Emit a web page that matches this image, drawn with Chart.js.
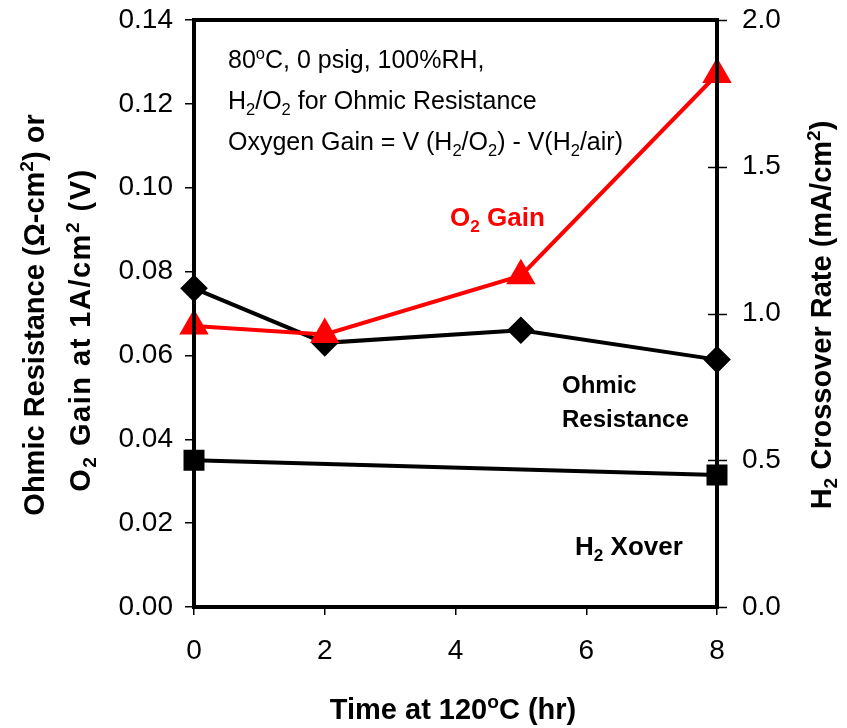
<!DOCTYPE html>
<html>
<head>
<meta charset="utf-8">
<script src="https://cdn.jsdelivr.net/npm/chart.js@4.4.1/dist/chart.umd.min.js"></script>
<style>
  html, body { margin: 0; padding: 0; background: #fff; }
  #wrap { width: 847px; height: 728px; position: relative; }
</style>
</head>
<body>
<div id="wrap"><canvas id="chart" width="847" height="728"></canvas></div>
<script>
// данные
const timeHr = [0, 2, 5, 8];
const o2Gain = [0.067, 0.065, 0.079, 0.127];     // V
const ohmicRes = [0.076, 0.063, 0.066, 0.059];   // ohm-cm2
const xoverTime = [0, 8];
const h2Xover = [0.50, 0.45];                    // mA/cm2

const xTicks = [0, 2, 4, 6, 8];
const leftTicks = [0, 0.02, 0.04, 0.06, 0.08, 0.10, 0.12, 0.14];
const rightTicks = [0, 0.5, 1.0, 1.5, 2.0];

const FONT = '"Liberation Sans", Arial, sans-serif';

// текст с индексами: части вида [строка, 'sub' | 'sup' | undefined]
function richWidth(ctx, parts, size, bold) {
    let w = 0;
    parts.forEach(([t, k]) => {
        const s = k ? size * 0.66 : size;
        ctx.font = (bold ? 'bold ' : '') + s + 'px ' + FONT;
        w += ctx.measureText(t).width;
    });
    return w;
}

function drawRich(ctx, parts, x, y, size, opts = {}) {
    const bold = !!opts.bold;
    ctx.letterSpacing = opts.spacing || '0px';
    const w = richWidth(ctx, parts, size, bold);
    let cx = opts.align === 'center' ? x - w / 2 : x;
    ctx.fillStyle = opts.color || '#000';
    ctx.textBaseline = 'alphabetic';
    ctx.textAlign = 'left';
    parts.forEach(([t, k]) => {
        const s = k ? size * 0.66 : size;
        ctx.font = (bold ? 'bold ' : '') + s + 'px ' + FONT;
        let dy = 0;
        if (k === 'sub') dy = size * 0.22;
        if (k === 'sup') dy = -size * 0.38;
        ctx.fillText(t, cx, y + dy);
        cx += ctx.measureText(t).width;
    });
    ctx.letterSpacing = '0px';
}

// подписи осей, заметки и рамка поверх графика
const decorPlugin = {
    id: 'decor',
    afterDraw(chart) {
        const ctx = chart.ctx;
        const area = chart.chartArea;
        const yR = chart.scales.yRight;
        ctx.save();

        // засечки правой оси проходят сквозь линию
        ctx.strokeStyle = '#000';
        ctx.lineWidth = 1.5;
        rightTicks.forEach(v => {
            const py = Math.round(yR.getPixelForValue(v)) + 0.5;
            ctx.beginPath();
            ctx.moveTo(area.right - 9, py);
            ctx.lineTo(area.right + 10, py);
            ctx.stroke();
        });

        // рамка
        ctx.lineWidth = 4;
        ctx.strokeRect(area.left, area.top, area.right - area.left, area.bottom - area.top);

        // заметка в углу
        const size = 25;
        drawRich(ctx, [['80'], ['o', 'sup'], ['C, 0 psig, 100%RH,']], 228, 68, size);
        drawRich(ctx, [['H'], ['2', 'sub'], ['/O'], ['2', 'sub'], [' for Ohmic Resistance']], 228, 109, size);
        drawRich(ctx, [['Oxygen Gain = V (H'], ['2', 'sub'], ['/O'], ['2', 'sub'], [') - V(H'], ['2', 'sub'], ['/air)']], 228, 150, size);

        // подписи серий
        drawRich(ctx, [['O'], ['2', 'sub'], [' Gain']], 450, 226, 26, {bold: true, color: '#ff0000'});
        drawRich(ctx, [['Ohmic']], 562, 393, 24, {bold: true});
        drawRich(ctx, [['Resistance']], 562, 427, 24, {bold: true});
        drawRich(ctx, [['H'], ['2', 'sub'], [' Xover']], 575, 555, 26, {bold: true});

        // название оси X
        drawRich(ctx, [['Time at 120'], ['o', 'sup'], ['C (hr)']], 453, 719, 29, {bold: true, align: 'center'});

        // левая ось, две строки
        ctx.save();
        ctx.translate(44, 315);
        ctx.rotate(-Math.PI / 2);
        drawRich(ctx, [['Ohmic Resistance (\u03A9-cm'], ['2', 'sup'], [') or']], 0, 0, 29, {bold: true, align: 'center'});
        ctx.restore();
        ctx.save();
        ctx.translate(90, 330);
        ctx.rotate(-Math.PI / 2);
        drawRich(ctx, [['O'], ['2', 'sub'], [' Gain at 1A/cm'], ['2', 'sup'], [' (V)']], 0, 0, 29, {bold: true, align: 'center', spacing: '1.5px'});
        ctx.restore();

        // правая ось
        ctx.save();
        ctx.translate(831, 315);
        ctx.rotate(-Math.PI / 2);
        drawRich(ctx, [['H'], ['2', 'sub'], [' Crossover Rate (mA/cm'], ['2', 'sup'], [')']], 0, 0, 29, {bold: true, align: 'center'});
        ctx.restore();

        ctx.restore();
    }
};

const tickFont = {family: FONT, size: 28};

new Chart(document.getElementById('chart'), {
    type: 'line',
    data: {
        datasets: [
            {
                label: 'O2 Gain',
                data: timeHr.map((t, i) => ({x: t, y: o2Gain[i]})),
                borderColor: '#ff0000',
                backgroundColor: '#ff0000',
                borderWidth: 4,
                pointStyle: 'triangle',
                pointRadius: 13,
                clip: false,
                yAxisID: 'y',
                order: 1
            },
            {
                label: 'Ohmic Resistance',
                data: timeHr.map((t, i) => ({x: t, y: ohmicRes[i]})),
                borderColor: '#000',
                backgroundColor: '#000',
                borderWidth: 4,
                pointStyle: 'rectRot',
                pointRadius: 11,
                clip: false,
                yAxisID: 'y',
                order: 2
            },
            {
                label: 'H2 Xover',
                data: xoverTime.map((t, i) => ({x: t, y: h2Xover[i]})),
                borderColor: '#000',
                backgroundColor: '#000',
                borderWidth: 4,
                pointStyle: 'rect',
                pointRadius: 12,
                clip: false,
                yAxisID: 'yRight',
                order: 3
            }
        ]
    },
    options: {
        responsive: false,
        animation: false,
        layout: {padding: {top: 20, left: 0, right: 0, bottom: 0}},
        plugins: {legend: {display: false}, tooltip: {enabled: false}},
        scales: {
            x: {
                type: 'linear',
                min: 0, max: 8,
                afterFit: s => { s.height = 121; s.paddingLeft = 0; s.paddingRight = 0; },
                afterBuildTicks: s => { s.ticks = xTicks.map(v => ({value: v})); },
                ticks: {font: tickFont, color: '#000', padding: 19, maxRotation: 0},
                grid: {drawOnChartArea: false, drawTicks: true, tickLength: 8, color: '#000', lineWidth: 1.5},
                border: {color: '#000', width: 4}
            },
            y: {
                position: 'left',
                min: 0, max: 0.14,
                afterFit: s => { s.width = 194; s.paddingTop = 0; s.paddingBottom = 0; },
                afterBuildTicks: s => { s.ticks = leftTicks.map(v => ({value: v})); },
                ticks: {font: tickFont, color: '#000', padding: 12, callback: v => v.toFixed(2)},
                grid: {drawOnChartArea: false, drawTicks: true, tickLength: 9, color: '#000', lineWidth: 1.5},
                border: {color: '#000', width: 4}
            },
            yRight: {
                position: 'right',
                min: 0, max: 2.0,
                afterFit: s => { s.width = 130; s.paddingTop = 0; s.paddingBottom = 0; },
                afterBuildTicks: s => { s.ticks = rightTicks.map(v => ({value: v})); },
                ticks: {font: tickFont, color: '#000', padding: 25, callback: v => v.toFixed(1)},
                grid: {drawOnChartArea: false, drawTicks: false},
                border: {color: '#000', width: 4}
            }
        }
    },
    plugins: [decorPlugin]
});
</script>
</body>
</html>
